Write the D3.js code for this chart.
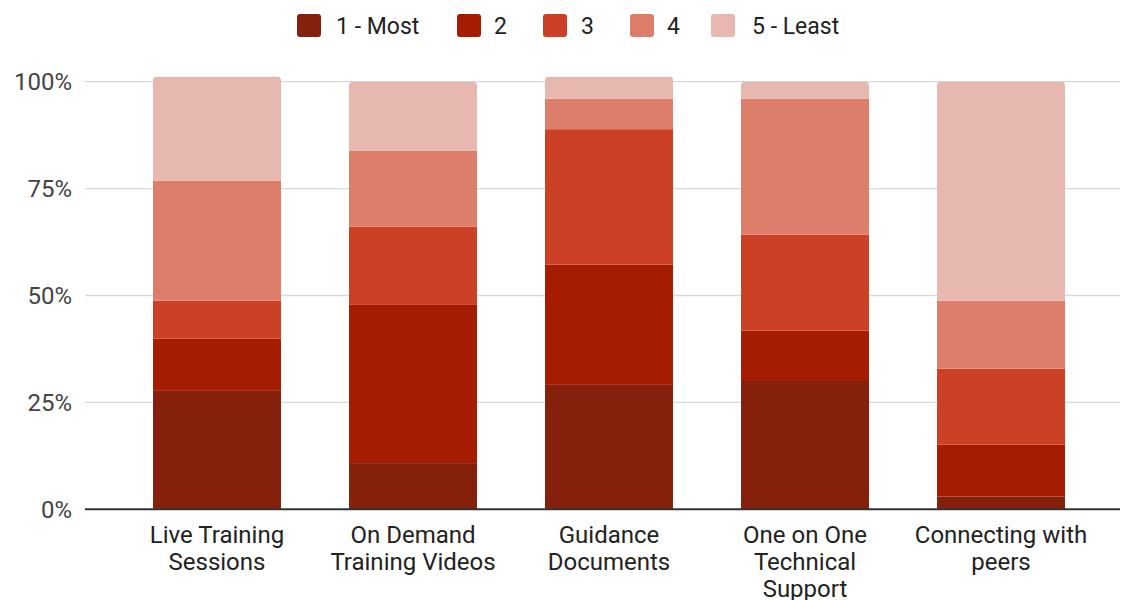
<!DOCTYPE html>
<html>
<head>
<meta charset="utf-8">
<script src="https://cdn.jsdelivr.net/npm/d3@7"></script>
<style>
  body { margin: 0; background: #fff; }
  text { font-family: Roboto, "Noto Sans", sans-serif; }
</style>
</head>
<body>
<svg id="chart" width="1122" height="600"></svg>
<script>
// categories and series (percent of responses per rank)
const categories = [
  ["Live Training", "Sessions"],
  ["On Demand", "Training Videos"],
  ["Guidance", "Documents"],
  ["One on One", "Technical", "Support"],
  ["Connecting with", "peers"]
];
const seriesNames = ["1 - Most", "2", "3", "4", "5 - Least"];
const rank1 = [27.7, 10.8, 29.1, 30.0, 3.0];
const rank2 = [12.2, 37.0, 28.1, 11.8, 12.1];
const rank3 = [8.9, 18.3, 31.7, 22.4, 17.8];
const rank4 = [28.0, 17.8, 7.1, 31.8, 15.9];
const rank5 = [24.4, 16.1, 5.2, 4.0, 51.2];
const yTicks = [0, 25, 50, 75, 100];
const colors = ["#85200c", "#a61c00", "#cc4125", "#dd7e6b", "#e6b8af"];

const series = [rank1, rank2, rank3, rank4, rank5];

const svg = d3.select("#chart");

const plot = { left: 85, right: 1120, top: 81.7, bottom: 509.3 };

const x = d3.scaleBand()
  .domain(d3.range(categories.length))
  .range([119, 1099])
  .paddingInner(0.347)
  .paddingOuter(0.1735);

const y = d3.scaleLinear()
  .domain([0, 100])
  .range([plot.bottom, plot.top]);

// gridlines
svg.append("g")
  .selectAll("line")
  .data(yTicks.filter(d => d > 0))
  .join("line")
  .attr("x1", plot.left)
  .attr("x2", plot.right)
  .attr("y1", d => y(d))
  .attr("y2", d => y(d))
  .attr("stroke", "#d9d9d9")
  .attr("stroke-width", 1.3);

// y tick labels
svg.append("g")
  .selectAll("text")
  .data(yTicks)
  .join("text")
  .attr("x", 72)
  .attr("y", d => y(d))
  .attr("dy", "0.35em")
  .attr("text-anchor", "end")
  .attr("font-size", 24)
  .attr("fill", "#444")
  .text(d => d + "%");

// stacked bars
const rows = categories.map((c, i) => {
  const r = { idx: i };
  seriesNames.forEach((s, k) => { r[s] = series[k][i]; });
  return r;
});
const stacked = d3.stack().keys(seriesNames)(rows);

const clip = svg.append("defs");
rows.forEach((r, i) => {
  const top = d3.sum(seriesNames, s => r[s]);
  clip.append("clipPath")
    .attr("id", "clip" + i)
    .append("rect")
    .attr("x", x(i))
    .attr("y", y(top))
    .attr("width", x.bandwidth())
    .attr("height", plot.bottom - y(top) + 10)
    .attr("rx", 4);
});

stacked.forEach((layer, k) => {
  svg.append("g")
    .selectAll("rect")
    .data(layer)
    .join("rect")
    .attr("clip-path", (d, i) => `url(#clip${i})`)
    .attr("x", (d, i) => x(i))
    .attr("y", d => y(d[1]))
    .attr("width", x.bandwidth())
    .attr("height", d => y(d[0]) - y(d[1]))
    .attr("fill", colors[k]);
});

// baseline
svg.append("line")
  .attr("x1", plot.left)
  .attr("x2", plot.right)
  .attr("y1", plot.bottom)
  .attr("y2", plot.bottom)
  .attr("stroke", "#333")
  .attr("stroke-width", 2);

// x labels
const xl = svg.append("g")
  .selectAll("text")
  .data(categories)
  .join("text")
  .attr("x", (d, i) => x(i) + x.bandwidth() / 2)
  .attr("y", 543)
  .attr("text-anchor", "middle")
  .attr("font-size", 24)
  .attr("fill", "#222");
xl.selectAll("tspan")
  .data(d => d)
  .join("tspan")
  .attr("x", function () { return d3.select(this.parentNode).attr("x"); })
  .attr("dy", (d, j) => j === 0 ? 0 : 27)
  .text(d => d);

// legend
const legendX = [297, 457, 543, 630, 711];
const legendTextX = [336, 494, 581, 667, 752];
const legend = svg.append("g");
legend.selectAll("rect")
  .data(seriesNames)
  .join("rect")
  .attr("x", (d, i) => legendX[i])
  .attr("y", 14)
  .attr("width", 24)
  .attr("height", 23)
  .attr("rx", 3)
  .attr("fill", (d, i) => colors[i]);
legend.selectAll("text")
  .data(seriesNames)
  .join("text")
  .attr("x", (d, i) => legendTextX[i])
  .attr("y", 25.5)
  .attr("dy", "0.35em")
  .attr("font-size", 23)
  .attr("fill", "#222")
  .text(d => d);
</script>
</body>
</html>
